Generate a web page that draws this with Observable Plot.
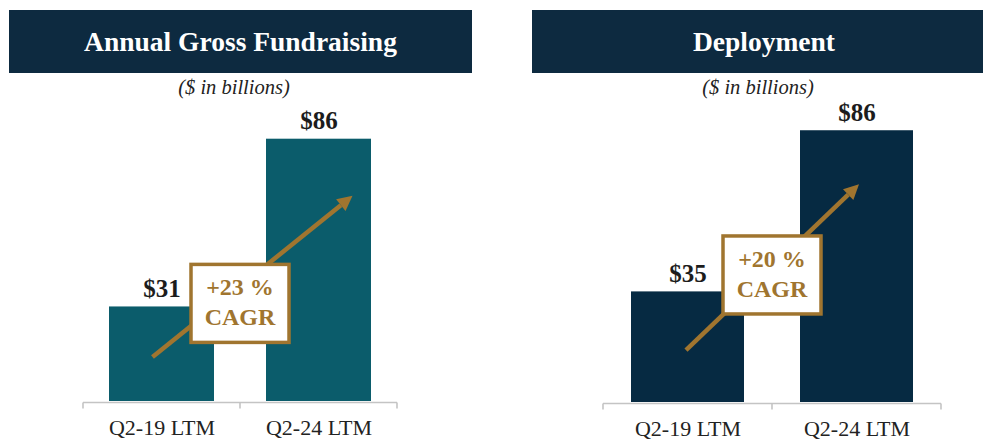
<!DOCTYPE html>
<html>
<head>
<meta charset="utf-8">
<script src="https://cdn.jsdelivr.net/npm/d3@7"></script>
<script src="https://cdn.jsdelivr.net/npm/@observablehq/plot@0.6"></script>
<style>
  html, body { margin: 0; padding: 0; background: #fff; }
  body { width: 983px; height: 440px; overflow: hidden; position: relative; font-family: "Liberation Serif", "Times New Roman", serif; }
  .header { position: absolute; top: 10px; height: 63px; background: #0d2a40; color: #fff;
            font-weight: bold; font-size: 27.5px; display: flex; align-items: center; justify-content: center; z-index: 2; }
  .sub { position: absolute; top: 76px; width: 300px; text-align: center; font-style: italic; font-size: 20.5px; color: #222; z-index: 2; }
  .panel { position: absolute; top: 0; }
</style>
</head>
<body>
<div class="header" style="left:9px;width:463px;">Annual Gross Fundraising</div>
<div class="header" style="left:532px;width:464px;">Deployment</div>
<div class="sub" style="left:84px;">($ in billions)</div>
<div class="sub" style="left:608px;">($ in billions)</div>
<div id="left" class="panel" style="left:0px;"></div>
<div id="right" class="panel" style="left:491px;"></div>
<script>
// ---- data ----
const categories = ["Q2-19 LTM", "Q2-24 LTM"];
const fundraising = [31, 86];
const deployment = [35, 86];
const cagrLabels = ["+23 %", "+20 %"];

const gold = "#a0752f";

function makeTable(values) {
  return categories.map((c, i) => ({cat: c, value: values[i]}));
}

// Excel-style category axis: baseline with ticks at the band edges
function edgeAxis(index, {x, y}) {
  const step = x.step(), bw = x.bandwidth();
  const dom = x.domain();
  const gap = (step - bw) / 2;
  const edges = [x(dom[0]) - gap, ...dom.map(d => x(d) + bw + gap)];
  const base = y(0) + 1.5;
  const g = d3.create("svg:g").attr("stroke", "#c4c4c4").attr("stroke-width", 1.6).attr("fill", "none");
  g.append("line").attr("x1", edges[0]).attr("x2", edges[edges.length - 1]).attr("y1", base).attr("y2", base);
  for (const e of edges) g.append("line").attr("x1", e).attr("x2", e).attr("y1", base).attr("y2", base + 6);
  return g.node();
}

// CAGR annotation: arrow from first bar to second bar, and a boxed label on the band boundary
function cagrAnnotation(label, arrow, boxValue) {
  return (index, {x, y}) => {
    const bw = x.bandwidth(), step = x.step();
    const c0 = x(categories[0]) + bw / 2, c1 = x(categories[1]) + bw / 2;
    const x1 = c0 + arrow.dx1, y1 = y(arrow.v1);
    const x2 = c1 + arrow.dx2, y2 = y(arrow.v2);
    const g = d3.create("svg:g");
    const ang = Math.atan2(y2 - y1, x2 - x1);
    const hl = 15, hw = 7.5;
    const bx = x2 - hl * Math.cos(ang), by = y2 - hl * Math.sin(ang);
    g.append("line").attr("x1", x1).attr("y1", y1).attr("x2", bx).attr("y2", by)
      .attr("stroke", gold).attr("stroke-width", 4.5);
    g.append("path")
      .attr("d", `M${x2},${y2}L${bx + hw * Math.sin(ang)},${by - hw * Math.cos(ang)}L${bx - hw * Math.sin(ang)},${by + hw * Math.cos(ang)}Z`)
      .attr("fill", gold);
    const cx = x(categories[0]) + bw + (step - bw) / 2;
    const cy = y(boxValue);
    g.append("rect").attr("x", cx - 49).attr("y", cy - 39).attr("width", 98).attr("height", 78)
      .attr("fill", "#fff").attr("stroke", gold).attr("stroke-width", 3.5);
    const t = g.append("text").attr("text-anchor", "middle").attr("fill", gold)
      .attr("font-weight", "bold").attr("font-size", 24).attr("font-family", "'Liberation Serif', 'Times New Roman', serif");
    t.append("tspan").attr("x", cx).attr("y", cy - 8).text(label);
    t.append("tspan").attr("x", cx).attr("y", cy + 22).text("CAGR");
    return g.node();
  };
}

function panel({values, color, width, marginLeft, marginRight, marginTop, marginBottom, label, arrow, boxValue}) {
  const data = makeTable(values);
  return Plot.plot({
    width, height: 440,
    marginLeft, marginRight, marginTop, marginBottom,
    style: {background: "transparent", fontFamily: "'Liberation Serif', 'Times New Roman', serif", fontSize: "22px", color: "#222", overflow: "visible"},
    x: {domain: categories, paddingInner: 1 / 3, paddingOuter: 1 / 6, align: 0.5, label: null},
    y: {domain: [0, 100], axis: null},
    marks: [
      Plot.barY(data, {x: "cat", y: "value", fill: color}),
      Plot.axisX({tickSize: 0, tickPadding: 18, fontSize: 22, fill: "#222", label: null}),
      edgeAxis,
      Plot.text(data, {x: "cat", y: "value", text: d => "$" + d.value, dy: -10, lineAnchor: "bottom",
        fontSize: 25, fontWeight: "bold", fill: "#1c1c1c"}),
      cagrAnnotation(label, arrow, boxValue)
    ]
  });
}

document.getElementById("left").append(panel({
  values: fundraising, color: "#0b5c6b", width: 491,
  marginLeft: 82, marginRight: 94, marginTop: 96, marginBottom: 39,
  label: cagrLabels[0],
  arrow: {dx1: -9, v1: 14.4, dx2: 34, v2: 67.3},
  boxValue: 32
}));

document.getElementById("right").append(panel({
  values: deployment, color: "#062a42", width: 492,
  marginLeft: 111, marginRight: 42, marginTop: 86, marginBottom: 38,
  label: cagrLabels[1],
  arrow: {dx1: -1.5, v1: 16.4, dx2: 2.5, v2: 68.9},
  boxValue: 40.2
}));
</script>
</body>
</html>
